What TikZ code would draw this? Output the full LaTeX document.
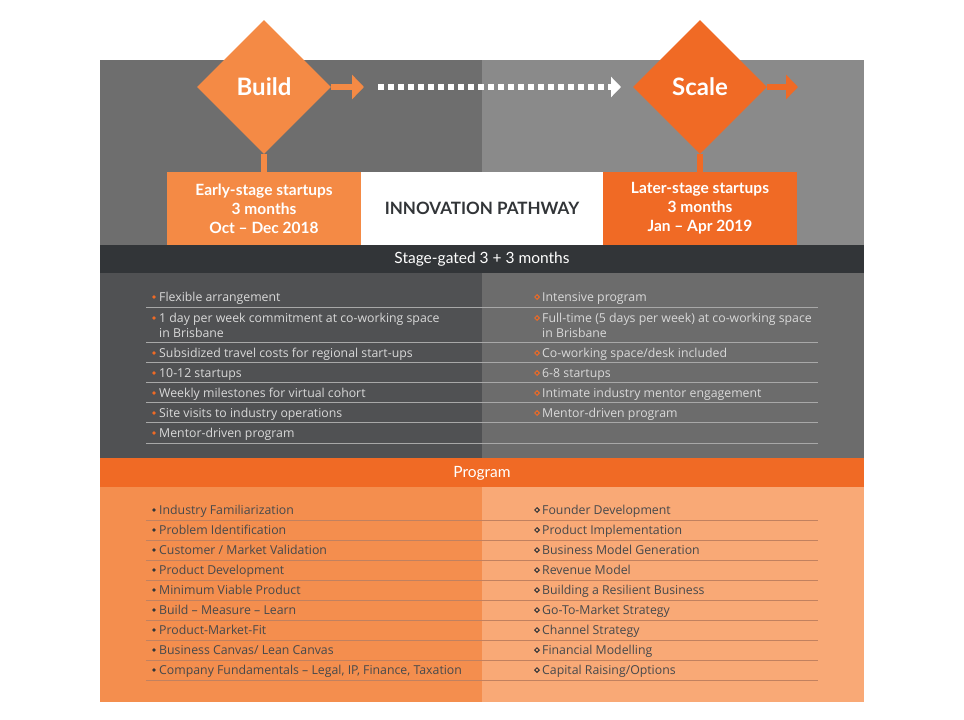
\documentclass[tikz,border=0pt]{standalone}
\usepackage{fontspec}
\setmainfont{Open Sans}
\newfontfamily\headfont{Lato}
\usetikzlibrary{shapes.geometric,arrows.meta,positioning}
\definecolor{grayL}{HTML}{6E6E6E}
\definecolor{grayR}{HTML}{8A8A8A}
\definecolor{darkbar}{HTML}{323538}
\definecolor{listL}{HTML}{505153}
\definecolor{listR}{HTML}{6C6C6C}
\definecolor{orangeD}{HTML}{F06A25}
\definecolor{orangeM}{HTML}{F48A45}
\definecolor{progL}{HTML}{F48E4E}
\definecolor{progR}{HTML}{F9A976}
\definecolor{rule}{HTML}{A8A8A8}
\begin{document}
\begin{tikzpicture}[x=1pt,y=-1pt,
    stage/.style={diamond, minimum width=134pt, minimum height=134pt, inner sep=0pt,
      text=white, font=\headfont\bfseries\fontsize{24}{28}\selectfont},
    infobox/.style={minimum width=194pt, minimum height=73pt, inner sep=0pt, text=white, align=center,
      font=\headfont\bfseries\fontsize{15.5}{19}\selectfont},
    bartext/.style={text=white, font=\headfont\fontsize{15.5}{18}\selectfont},
    item/.style={anchor=base west, inner sep=0pt, font=\fontsize{12.3}{15}\selectfont},
    dotbul/.style={circle, fill, inner sep=0pt, minimum size=3.6pt},
    diabul/.style={diamond, draw, line width=1pt, inner sep=0pt, minimum size=5pt}]
    \useasboundingbox (0,0) rectangle (964,720);
    % Background bands
    \fill[grayL] (100,60) rectangle (482,245);
    \fill[grayR] (482,60) rectangle (864,245);
    \fill[darkbar] (100,245) rectangle (864,273);
    \fill[listL] (100,273) rectangle (482,458);
    \fill[listR] (482,273) rectangle (864,458);
    \fill[orangeD] (100,458) rectangle (864,487);
    \fill[progL] (100,487) rectangle (482,702);
    \fill[progR] (482,487) rectangle (864,702);
    % Stage boxes
    \node[infobox, fill=orangeM] (early) at (264,208.5) {Early-stage startups\\3 months\\Oct – Dec 2018};
    \node[infobox, fill=white, minimum width=242pt, text=darkbar,
      font=\headfont\bfseries\fontsize{17}{20}\selectfont] (title) at (482,208.5) {INNOVATION PATHWAY};
    \node[infobox, fill=orangeD] (later) at (700,208.5) {Later-stage startups\\3 months\\Jan – Apr 2019};
    % Diamonds
    \node[stage, fill=orangeM] (build) at (264,87) {Build};
    \node[stage, fill=orangeD] (scale) at (700,87) {Scale};
    \draw[orangeM, line width=6pt] (build.south) -- (early.north);
    \draw[orangeD, line width=6pt] (scale.south) -- (later.north);
    \coordinate (buildend) at (364,87);
    \coordinate (scaleend) at (798,87);
    \coordinate (dotstart) at (378,87);
    \coordinate (dotend) at (621,87);
    \draw[orangeM, line width=6pt, -{Triangle[length=12pt,width=24pt]}] (build.east) -- (buildend);
    \draw[orangeD, line width=6pt, -{Triangle[length=12pt,width=24pt]}] (scale.east) -- (scaleend);
    \draw[white, line width=6pt, dash pattern=on 6pt off 4pt, -{Triangle[length=10pt,width=20pt]}] (dotstart) -- (dotend);
    % Bars
    \node[bartext] (gated) at (482,259.5) {Stage-gated 3 + 3 months};
    \node[bartext] (program) at (482,473) {Program};
    % Build features
    \foreach \y/\t in {301/Flexible arrangement,
        322/1 day per week commitment at co-working space,
        357/Subsidized travel costs for regional start-ups, 377/10-12 startups,
        397/Weekly milestones for virtual cohort, 417/Site visits to industry operations,
        437/Mentor-driven program}{
      \node[item, text=white!85!black] (bf\y) at (159,\y) {\t};
      \node[dotbul, fill=orangeD] at (154,\y-4) {};
    }
    \node[item, text=white!85!black] (bfbris) at (159,337) {in Brisbane};
    % Scale features
    \foreach \y/\t in {301/Intensive program,
        322/Full-time (5 days per week) at co-working space,
        357/{Co-working space/desk included}, 377/6-8 startups,
        397/Intimate industry mentor engagement, 417/Mentor-driven program}{
      \node[item, text=white!85!black] (sf\y) at (542,\y) {\t};
      \node[diabul, draw=orangeD] at (537,\y-4) {};
    }
    \node[item, text=white!85!black] (sfbris) at (542,337) {in Brisbane};
    \foreach \y in {307,342,362,382,402,422,443}{
      \draw[rule, line width=1pt] (146,\y) -- (818,\y);
    }
    % Program topics
    \foreach \t [count=\i] in {Industry Familiarization, Problem Identification,
        Customer / Market Validation, Product Development, Minimum Viable Product,
        Build – Measure – Learn, Product-Market-Fit, Business Canvas/ Lean Canvas,
        {Company Fundamentals – Legal, IP, Finance, Taxation}}{
      \node[item, text=darkbar!90] (pl\i) at (159,494+20*\i) {\t};
      \node[dotbul, fill=darkbar] at (154,490+20*\i) {};
      \draw[orangeD!70!black!70, line width=0.8pt] (146,500+20*\i) -- (818,500+20*\i);
    }
    \foreach \t [count=\i] in {Founder Development, Product Implementation,
        Business Model Generation, Revenue Model, Building a Resilient Business,
        Go-To-Market Strategy, Channel Strategy, Financial Modelling, {Capital Raising/Options}}{
      \node[item, text=darkbar!90] (pr\i) at (542,494+20*\i) {\t};
      \node[diabul, draw=darkbar] at (537,490+20*\i) {};
    }
\end{tikzpicture}
\end{document}
